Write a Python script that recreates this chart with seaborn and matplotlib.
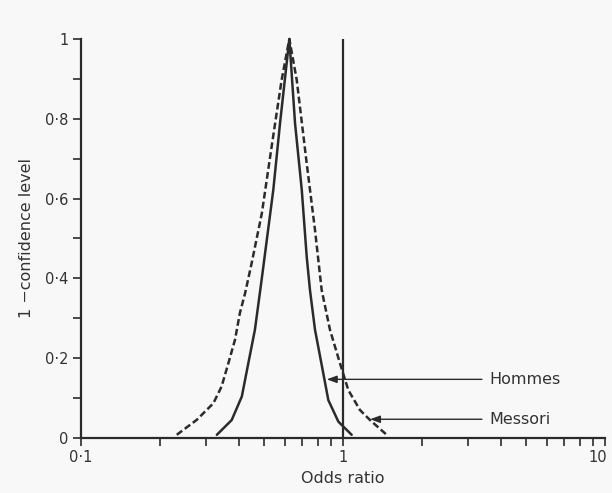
import numpy as np
import pandas as pd
import matplotlib
matplotlib.use("Agg")
import matplotlib.pyplot as plt
import matplotlib.transforms as mtransforms
import seaborn as sns
from matplotlib.ticker import FixedLocator, FuncFormatter, NullFormatter

# ---- data ----
hommes_or = [0.330, 0.376, 0.411, 0.435, 0.461, 0.489, 0.542, 0.575, 0.624,
             0.656, 0.696, 0.727, 0.748, 0.782, 0.841, 0.879, 0.960, 1.079]
hommes_p = [0.008, 0.045, 0.104, 0.187, 0.271, 0.396, 0.622, 0.789, 1.0,
            0.789, 0.622, 0.454, 0.371, 0.271, 0.162, 0.095, 0.041, 0.008]

messori_or = [0.232, 0.276, 0.320, 0.344, 0.365, 0.387, 0.404, 0.423, 0.448, 0.490, 0.534, 0.583, 0.624,
              0.666, 0.727, 0.782, 0.829, 0.892, 0.974, 1.048, 1.161, 1.268, 1.468]
messori_p = [0.008, 0.045, 0.087, 0.129, 0.187, 0.246, 0.313, 0.363, 0.438, 0.563, 0.730, 0.897, 1.0,
             0.897, 0.688, 0.521, 0.371, 0.271, 0.187, 0.120, 0.070, 0.045, 0.008]

studies = ["Hommes", "Messori"]
label_y = [0.147, 0.047]      # arrow heights
arrow_tip = [0.867, 1.268]    # where arrows point
arrow_tail = 3.39
text_x = 3.62

y_ticks = [0, 0.2, 0.4, 0.6, 0.8, 1]
x_ticks = [0.1, 1, 10]

df = pd.concat([
    pd.DataFrame({"or": hommes_or, "p": hommes_p, "study": "Hommes"}),
    pd.DataFrame({"or": messori_or, "p": messori_p, "study": "Messori"}),
])

sns.set_style("ticks")
plt.rcParams["font.family"] = ["DejaVu Sans"]

ink = "#2b2b2b"
bg = "#f8f8f8"
fig = plt.figure(figsize=(6.12, 4.93), dpi=100, facecolor=bg)
ax = fig.add_axes([81 / 612, 1 - 438 / 493, (605 - 81) / 612, (438 - 39) / 493])
ax.set_facecolor(bg)

sns.lineplot(data=df, x="or", y="p", style="study", sort=False, estimator=None,
             units="study", color=ink, linewidth=1.8, legend=False, ax=ax,
             dashes={"Hommes": "", "Messori": (2.7, 1.3)})
for ln in ax.lines:
    ln.set_clip_on(False)

ax.axvline(1, ymin=0, ymax=1, color=ink, lw=1.6)

ax.set_xscale("log")
ax.set_xlim(0.1, 10)
ax.set_ylim(0, 1)

for s in ["top", "right"]:
    ax.spines[s].set_visible(False)
for s in ["left", "bottom"]:
    ax.spines[s].set_color(ink)
    ax.spines[s].set_linewidth(1.6)

def dot_fmt(v, pos):
    if v == 0:
        return "0"
    if v == int(v):
        return str(int(v))
    return ("%g" % v).replace(".", "·")

ax.yaxis.set_major_locator(FixedLocator(y_ticks))
ax.yaxis.set_minor_locator(FixedLocator(np.round(np.arange(0.1, 1.0, 0.2), 2)))
ax.yaxis.set_major_formatter(FuncFormatter(dot_fmt))
ax.xaxis.set_major_locator(FixedLocator(x_ticks))
ax.xaxis.set_major_formatter(FuncFormatter(dot_fmt))
ax.xaxis.set_minor_formatter(NullFormatter())

ax.tick_params(axis="both", which="both", direction="out", color=ink, width=1.2,
               labelsize=10.5, labelcolor="#333333")
ax.tick_params(axis="both", which="major", length=6, pad=3)
ax.tick_params(axis="both", which="minor", length=6)

# nudge the "10" label inward so it is not cut at the figure edge
fig.canvas.draw()
lbls = ax.get_xticklabels()
offset = mtransforms.ScaledTranslation(-7 / 100, 0, fig.dpi_scale_trans)
lbls[-1].set_transform(lbls[-1].get_transform() + offset)

ax.set_xlabel("Odds ratio", fontsize=11.5, color="#333333", labelpad=4)
ax.set_ylabel("1 \u2212confidence level", fontsize=11.5, color="#333333", labelpad=8)

for name, yy, tip in zip(studies, label_y, arrow_tip):
    ax.annotate("", xy=(tip, yy), xytext=(arrow_tail, yy),
                arrowprops=dict(arrowstyle="-|>,head_length=0.6,head_width=0.22",
                                color=ink, lw=1.0, shrinkA=0, shrinkB=0))
    ax.text(text_x, yy, name, ha="left", va="center", fontsize=11.5, color="#333333")

fig.savefig("out.png", dpi=100, facecolor=fig.get_facecolor())
